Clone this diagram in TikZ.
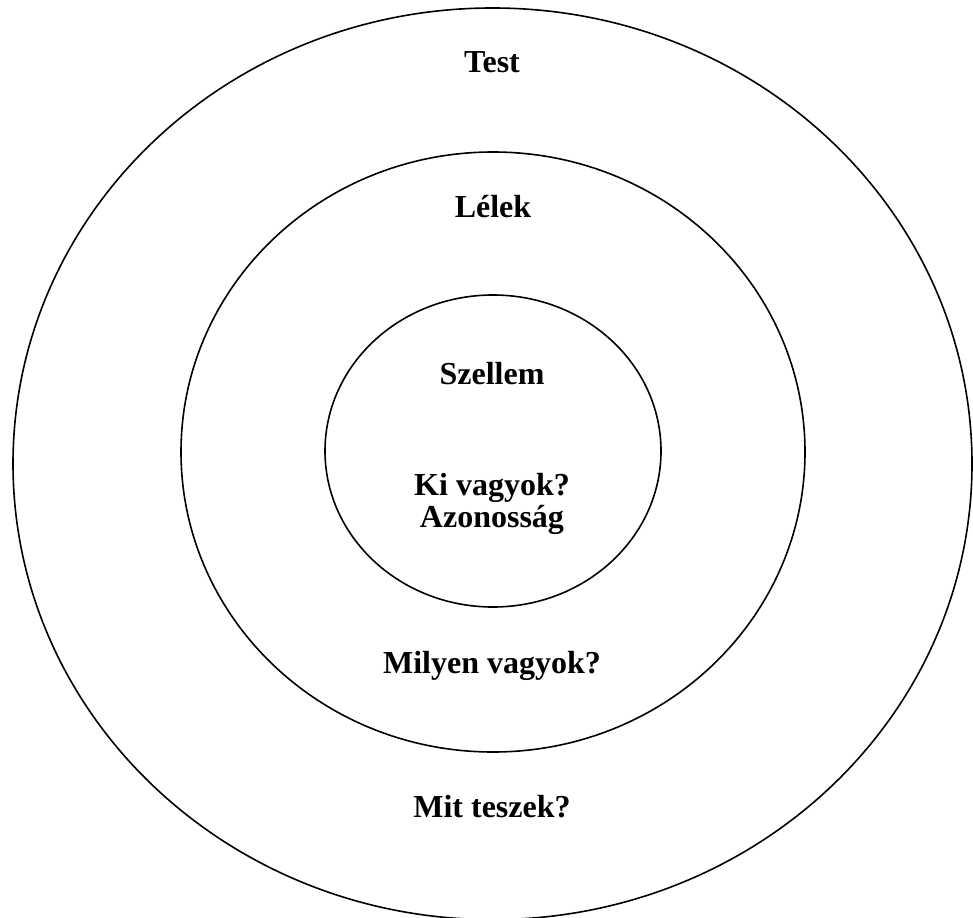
\documentclass[tikz,border=0pt]{standalone}
\usepackage{fontspec}
\setmainfont{Liberation Serif}
\tikzset{>=stealth}
\tikzset{
    ring/.style={draw=black, line width=1.6pt},
    lbl/.style={anchor=base, inner sep=0pt, font=\fontsize{32}{38}\selectfont\bfseries}
}

\begin{document}
\begin{tikzpicture}[x=1pt, y=-1pt]
    \useasboundingbox (0,0) rectangle (973,917);
    \draw[ring] (492.5,463.8) ellipse [x radius=479.5, y radius=455.8];
    \draw[ring] (493,452) ellipse [x radius=312, y radius=300];
    \draw[ring] (493,451) ellipse [x radius=168, y radius=156];
    \node[lbl] (test) at (492,73) {Test};
    \node[lbl] (lelek) at (493,218) {Lélek};
    \node[lbl] (szellem) at (492,384) {Szellem};
    \node[lbl] (ki) at (492,495) {Ki vagyok?};
    \node[lbl] (azon) at (492,527) {Azonosság};
    \node[lbl] (milyen) at (492,673) {Milyen vagyok?};
    \node[lbl] (mit) at (492,817) {Mit teszek?};
\end{tikzpicture}
\end{document}
